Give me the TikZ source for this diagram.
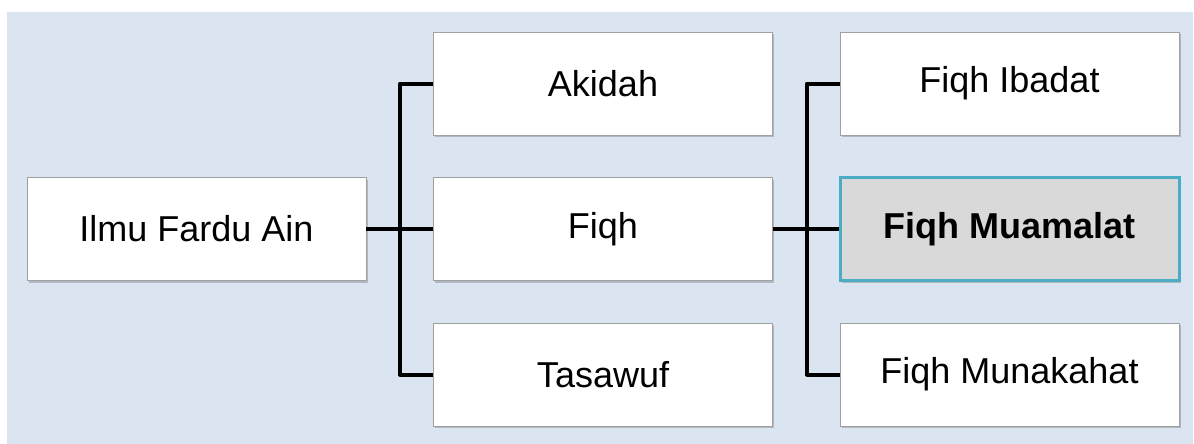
\documentclass[tikz,border=0pt]{standalone}
\usepackage{fontspec}
\setmainfont{Liberation Sans}
\usetikzlibrary{shadows}
\definecolor{bgblue}{RGB}{219,229,241}
\definecolor{boxline}{RGB}{160,160,160}
\definecolor{hlline}{RGB}{75,172,198}
\definecolor{hlfill}{RGB}{217,217,217}
\tikzset{
  box/.style={draw=boxline, line width=0.8pt, fill=white, minimum width=339pt, minimum height=103pt, inner sep=0pt,
    font=\fontsize{36}{43}\selectfont,
    drop shadow={shadow xshift=1.5pt, shadow yshift=-2pt, opacity=0.35, fill=black!60}},
  hlbox/.style={box, draw=hlline, line width=3pt, fill=hlfill, font=\fontsize{36}{43}\selectfont\bfseries},
  conn/.style={line width=4pt, black, line join=round}
}
\begin{document}
\begin{tikzpicture}[x=1pt,y=-1pt]
\useasboundingbox (0,0) rectangle (1194,444);
\fill[bgblue] (7,12) rectangle (1193,444);
\node[box] (ilmu) at (196.5,229) {Ilmu Fardu Ain};
\node[box] (akidah) at (603,83.5) {Akidah};
\node[box] (fiqh) at (603,229) {Fiqh};
\node[box] (tasawuf) at (603,374.5) {Tasawuf};
\node[box] (ibadat) at (1009.5,83.5) {Fiqh Ibadat};
\node[hlbox] (muamalat) at (1009.5,229) {Fiqh Muamalat};
\node[box] (munakahat) at (1009.5,374.5) {Fiqh Munakahat};
\coordinate (j1) at (400,229);
\coordinate (j2) at (807,229);
\draw[conn] (akidah.west) -| (j1) |- (tasawuf.west);
\draw[conn] (ilmu.east) -- (fiqh.west);
\draw[conn] (ibadat.west) -| (j2) |- (munakahat.west);
\draw[conn] (fiqh.east) -- (muamalat.west);
\end{tikzpicture}
\end{document}
